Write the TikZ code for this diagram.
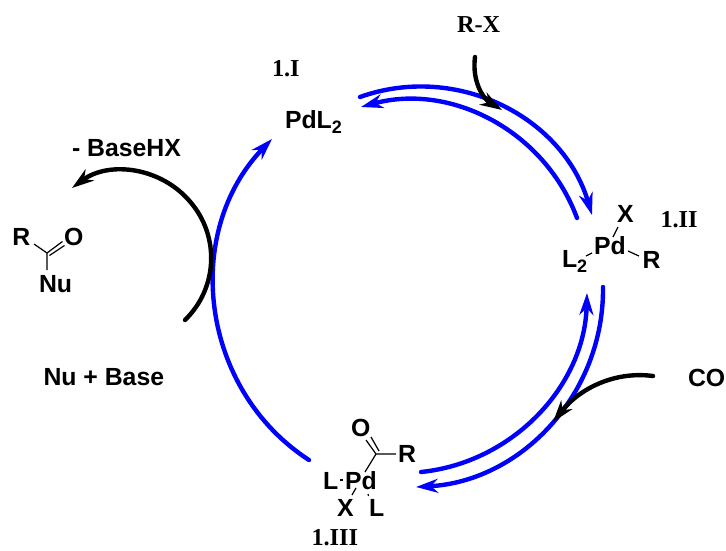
\documentclass[tikz,border=0pt]{standalone}
\usepackage{fontspec}
\setmainfont{Liberation Sans}
\newfontfamily\serifb{Liberation Serif}
\usetikzlibrary{arrows.meta}
\newcommand{\subtwo}{\raisebox{-5pt}{\fontsize{18}{18}\selectfont 2}}
\tikzset{
  x=1pt,y=-1pt,
  chem/.style={inner sep=0pt,outer sep=0pt,anchor=base west,font=\fontsize{24.8}{25}\selectfont\bfseries,text=black},
  lab/.style={inner sep=0pt,outer sep=0pt,anchor=base west,font=\fontsize{24.3}{25}\serifb\bfseries,text=black},
  cyc/.style={draw=blue,line width=4.4pt,line cap=round},
  cyca/.style={cyc,-{Stealth[length=22pt,width=14pt,inset=7pt]}},
  blk/.style={draw=black,line width=4.4pt,line cap=round},
  blka/.style={blk,-{Stealth[length=22pt,width=14pt,inset=7pt]}},
  bond/.style={draw=black,line width=1.2pt}
}
\begin{document}
\begin{tikzpicture}
\useasboundingbox (0,0) rectangle (726,550);
% labels and species
\node[lab] (n1I) at (272,76) {1.I};
\node[lab] (n1II) at (660.5,227) {1.II};
\node[lab] (n1III) at (311.5,545) {1.III};
\node[lab] (rx) at (457,32) {R-X};
\node[chem] (pdl) at (285,128) {PdL\subtwo};
\node[chem] (hx) at (72,156) {- BaseHX};
\node[chem] (nub) at (43.5,385) {Nu + Base};
\node[chem] (co) at (688,386) {CO};
% product
\node[chem] (pr) at (12.5,245) {R};
\node[chem] (po) at (64,245) {O};
\node[chem] (pnu) at (39,292) {Nu};
% complex II
\node[chem] (iipd) at (594,254) {Pd};
\node[chem] (iix) at (617,222) {X};
\node[chem] (iil) at (562,267) {L\subtwo};
\node[chem] (iir) at (642.5,268) {R};
% complex III
\node[chem] (iiio) at (351,436) {O};
\node[chem] (iiir) at (398,462) {R};
\node[chem] (iiil) at (323,489) {L};
\node[chem] (iiipd) at (345,489) {Pd};
\node[chem] (iiix) at (337,516) {X};
\node[chem] (iiilb) at (369,516) {L};
% connector ends
\coordinate (tA) at (360,97);   \coordinate (tB) at (592,215);
\coordinate (tC) at (577,218);  \coordinate (tD) at (361,107);
\coordinate (rA) at (603,287);  \coordinate (rB) at (416,487);
\coordinate (rC) at (421,472);  \coordinate (rD) at (587,293);
\coordinate (lA) at (309,460);  \coordinate (lB) at (272,139);
\coordinate (bA) at (185,320);  \coordinate (bM) at (190.4,202); \coordinate (bB) at (72,188);
\coordinate (xA) at (475,57);   \coordinate (xB) at (502,110);
\coordinate (cA) at (653,376);  \coordinate (cB) at (553,422);
% catalytic cycle
\draw[cyca] (tA) to[bend left=46.6,looseness=1.01] (tB);
\draw[cyca] (tC) to[bend right=42.5,looseness=.98] (tD);
\draw[cyca] (rA) to[bend left=43.8,looseness=.99] (rB);
\draw[cyca] (rC) to[bend right=41.3,looseness=.97] (rD);
\draw[cyca] (lA) to[bend left=50.5,looseness=1.03] (lB);
% black arrows
\draw[blka] (bA) to[bend right=43.25,looseness=.986] (bM) to[bend right=43.25,looseness=.986] (bB);
\draw[blka] (xA) .. controls (472,80) and (482,98) .. (xB);
\draw[blka] (cA) .. controls (615,371) and (580,388) .. (cB);
% product bonds
\coordinate (pc) at (47,253);
\coordinate (pb1) at (34,244);
\coordinate (pb2) at (47,270);
\coordinate (pd1) at (62.5,241.5);
\coordinate (pd2a) at (49.5,255.5);
\coordinate (pd2b) at (64.5,245.5);
\draw[bond] (pb1) -- (pc) -- (pb2);
\draw[bond] (pc) -- (pd1);
\draw[bond] (pd2a) -- (pd2b);
% complex II bonds
\coordinate (a1) at (618,227); \coordinate (a2) at (613,237);
\coordinate (a3) at (586,256); \coordinate (a4) at (592,253);
\coordinate (a5) at (628,251); \coordinate (a6) at (639,256);
\draw[bond] (a1) -- (a2);
\draw[bond] (a3) -- (a4);
\draw[bond] (a5) -- (a6);
% complex III bonds
\coordinate (c0) at (376,454);
\coordinate (c1) at (396,454);
\coordinate (c2) at (365,472);
\coordinate (c3) at (366,440);
\coordinate (c4) at (371,437);
\coordinate (c5) at (379,451);
\coordinate (c6) at (340,480); \coordinate (c7) at (343,480);
\coordinate (c8) at (356,488); \coordinate (c9) at (352,495);
\coordinate (c10) at (368,494); \coordinate (c11) at (368.5,496);
\draw[bond] (c1) -- (c0) -- (c2);
\draw[bond] (c3) -- (c0);
\draw[bond] (c4) -- (c5);
\draw[bond] (c6) -- (c7);
\draw[bond] (c8) -- (c9);
\draw[bond] (c10) -- (c11);
\end{tikzpicture}
\end{document}
